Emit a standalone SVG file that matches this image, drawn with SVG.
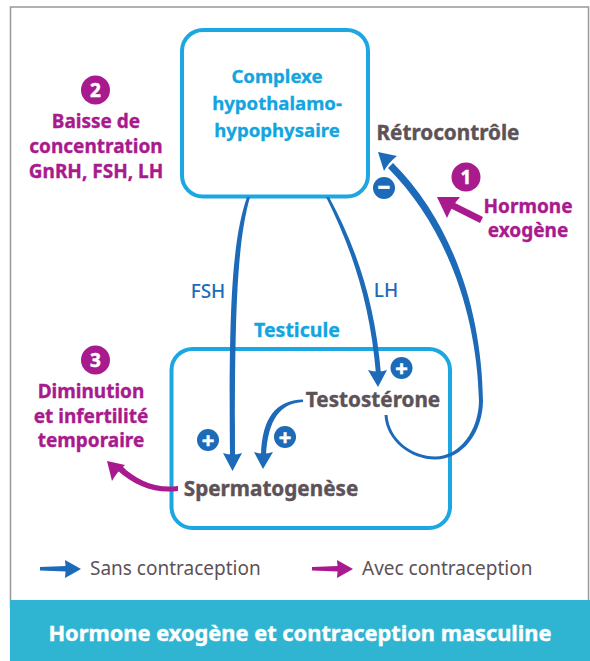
<svg xmlns="http://www.w3.org/2000/svg" width="590" height="661" viewBox="0 0 590 661">
<style>
text{font-family:"Noto Sans","Open Sans",sans-serif;text-anchor:middle}
.mag{fill:#a81a8e;stroke:#a81a8e;stroke-width:.35;font-size:19px;font-weight:700}
.cy{fill:#12a5e0;stroke:#12a5e0;stroke-width:.3;font-size:18.600px;font-weight:700}
.gr{fill:#5c5257;stroke:#5c5257;stroke-width:.4;font-size:20.700px;font-weight:700}
.lb{fill:#1c6ab8;font-size:19px;font-weight:500}
.lg{fill:#5c5257;font-size:19px;text-anchor:start}
.ttl{fill:#fff;stroke:#fff;stroke-width:.4;font-size:21.800px;font-weight:700}
.box{fill:#fff;stroke:#1ca6e2;stroke-width:4}
.blue{fill:#1c6ab8}
.mg{fill:#a81a8e}
.num{fill:#fff;stroke:#fff;stroke-width:.5;font-size:19px;font-weight:700}
.sg{fill:#fff;stroke:#fff;stroke-width:.6;font-size:22px;font-weight:700}
</style>
<rect width="590" height="661" fill="#fff"/>
<rect x="10.500" y="7" width="578" height="600" fill="#fff" stroke="#999" stroke-width="1.500"/>
<rect x="10" y="600" width="580" height="61" fill="#2fb5d2"/>
<text x="300" y="641" class="ttl">Hormone exogène et contraception masculine</text>
<g id="node-complexe">
<rect class="box" x="182" y="30" width="186" height="166.500" rx="21"/>
<text x="277" y="83" class="cy">Complexe</text>
<text x="277" y="110" class="cy">hypothalamo-</text>
<text x="277" y="137" class="cy">hypophysaire</text>
</g>
<g id="node-testicule">
<rect class="box" x="171.500" y="349" width="278.500" height="179" rx="21"/>
<text x="297" y="337" class="cy" style="font-size:19.500px">Testicule</text>
</g>
<g id="connectors">
<path class="blue" d="M247 197L250 197C238 240 234.500 300 235 456L230 456C228.500 310 232 240 247 197Z"/>
<path class="blue" d="M232.500 471L223 453Q232.500 456 242 453Z"/>
<path class="blue" d="M326 197L329 197C355 245 375 300 381 374L376 374C370 300 350 245 326 197Z"/>
<path class="blue" d="M378 387L368 370Q378 373 387 370Z"/>
<path class="blue" d="M303 399.500L303 402C280 403 268 420 266 455L261 455C262 418 276 400 303 399.500Z"/>
<path class="blue" d="M263 469L254 452Q263.500 455 273 452Z"/>
<path class="blue" d="M384.500 415C386 441 411 459.500 435 459.500C463 459.500 483 432 483 400L479 400C479 430 460 456.500 435 456.500C413 456.500 389 440 387.500 415Z"/>
<path class="blue" d="M483 402C482 310 452 222 393 163L388 168C444 224 477 310 479 402Z"/>
<path class="blue" d="M378 152L397 156Q389 162 384 171Z"/>
<path class="mg" d="M483 217L480 223L446 206L449 200Z"/>
<path class="mg" d="M437 197L460 197Q452 206 447 218Z"/>
<path class="mg" d="M178 486L178 491C155 494 135 486 117 470L122 466C136 480 155 489 178 486Z"/>
<path class="mg" d="M107 461L125 465Q117 472 112 481Z"/>
<path class="blue" d="M40 567L66 566V571.500L40 570.500Z"/>
<path class="blue" d="M81 569L65 560Q66.500 569 65 578Z"/>
<path class="mg" d="M312 567L338 566V571.500L312 570.500Z"/>
<path class="mg" d="M353 569L337 560Q338.500 569 337 578Z"/>
</g>
<g id="node-retro"><text x="448" y="140" class="gr">Rétrocontrôle</text>
<circle class="blue" cx="384" cy="188" r="11"/><text x="384" y="195" class="sg">−</text></g>
<g id="node-hormone">
<circle class="mg" cx="466" cy="177" r="14.500"/><text x="466" y="184" class="num">1</text>
<text x="528" y="213" class="mag">Hormone</text>
<text x="528" y="237" class="mag">exogène</text>
</g>
<g id="node-baisse">
<circle class="mg" cx="95.500" cy="90" r="14.500"/><text x="95.500" y="97" class="num">2</text>
<text x="96" y="128" class="mag">Baisse de</text>
<text x="96" y="153" class="mag">concentration</text>
<text x="96" y="178" class="mag">GnRH, FSH, LH</text>
</g>
<g id="node-diminution">
<circle class="mg" cx="95.500" cy="360" r="14.500"/><text x="95.500" y="367" class="num">3</text>
<text x="91" y="398" class="mag">Diminution</text>
<text x="91" y="423" class="mag">et infertilité</text>
<text x="91" y="447" class="mag">temporaire</text>
</g>
<g id="node-testosterone"><text x="373" y="407" class="gr">Testostérone</text>
<circle class="blue" cx="401.500" cy="368" r="11"/><text x="401.500" y="375.500" class="sg">+</text></g>
<g id="node-spermato"><text x="271" y="496" class="gr">Spermatogenèse</text>
<circle class="blue" cx="208" cy="440" r="11"/><text x="208" y="447.500" class="sg">+</text>
<circle class="blue" cx="285" cy="437" r="11"/><text x="285" y="444.500" class="sg">+</text></g>
<text x="90" y="575" class="lg">Sans contraception</text>
<text x="362" y="575" class="lg">Avec contraception</text>
<text x="208" y="298" class="lb">FSH</text>
<text x="386" y="297" class="lb">LH</text>
</svg>
